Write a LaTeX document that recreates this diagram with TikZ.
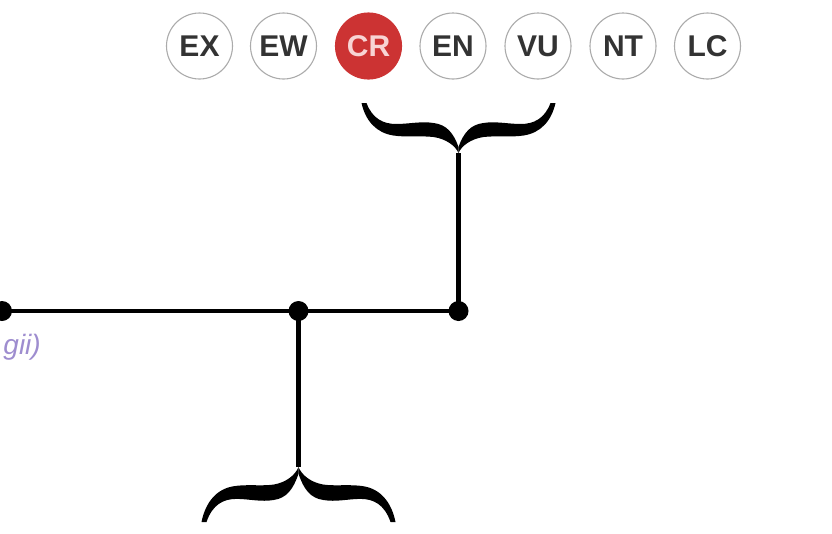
\documentclass[tikz,border=0pt]{standalone}
\usepackage{fontspec}
\setmainfont{Liberation Sans}
\definecolor{circgray}{HTML}{ABABAB}
\definecolor{labgray}{HTML}{333333}
\definecolor{crred}{HTML}{CC3333}
\definecolor{crtext}{HTML}{F8D4D4}
\definecolor{lav}{HTML}{9E8DCF}
\tikzset{
  halfbrace/.pic={
    \fill (-97,-50) .. controls (-93,-32) and (-82,-20) .. (-65,-17.5)
      .. controls (-52,-15.5) and (-38,-17.5) .. (-25,-16)
      .. controls (-12,-14) and (-3,-7) .. (0,0)
      -- (0,-6)
      .. controls (-5,-20) and (-12,-28.5) .. (-25,-30)
      .. controls (-37,-32) and (-50,-29) .. (-62,-29)
      .. controls (-75,-29) and (-86,-34) .. (-92,-50) -- cycle;
  }
}
\begin{document}
\begin{tikzpicture}[x=1pt,y=-1pt,
  status/.style={circle,draw=circgray,line width=1.1pt,minimum size=66pt,inner sep=0pt,
    font=\fontsize{30}{30}\selectfont\bfseries,text=labgray,fill=white},
  crstat/.style={status,fill=crred,draw=crred,text=crtext},
  dotnode/.style={circle,fill=black,minimum size=20pt,inner sep=0pt},
  branch/.style={line width=4.5pt},
  taxon/.style={text=lav,font=\fontsize{28}{28}\selectfont\itshape,inner sep=0pt}
]
\useasboundingbox (0,0) rectangle (832,533);
% status circles
\node[status] (ex) at (199.5,46) {EX};
\node[status] (ew) at (283.5,46) {EW};
\node[crstat] (cr) at (368.5,46) {CR};
\node[status] (en) at (453,46) {EN};
\node[status] (vu) at (538,46) {VU};
\node[status] (nt) at (623,46) {NT};
\node[status] (lc) at (707.5,46) {LC};
% tree
\node[dotnode] (dl) at (2,311) {};
\node[dotnode] (dm) at (298.5,311) {};
\node[dotnode] (dr) at (458.5,311) {};
\coordinate (cu) at (458.5,153);
\coordinate (cl) at (298.5,467);
\draw[branch] (dl.center) -- (dm.center) -- (dr.center);
\draw[branch] (dr.center) -- (cu);
\draw[branch] (dm.center) -- (cl);
% braces
\pic at (cu) {halfbrace};
\pic[xscale=-1] at (cu) {halfbrace};
\pic[yscale=-1.1] at (cl) {halfbrace};
\pic[xscale=-1,yscale=-1.1] at (cl) {halfbrace};
% label
\node[taxon,anchor=base east] (tx) at (41,354) {gii)};
\end{tikzpicture}
\end{document}
